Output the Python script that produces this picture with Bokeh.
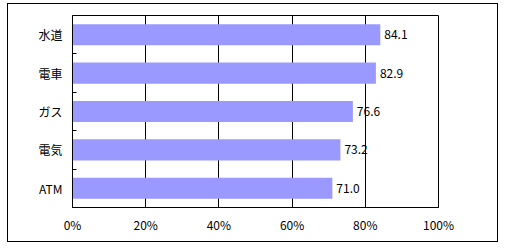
from bokeh.plotting import figure
from bokeh.models import FixedTicker, ColumnDataSource, LabelSet
from bokeh.core.properties import value
from bokeh.embed import file_html
from bokeh.resources import INLINE

categories = ["水道", "電車", "ガス", "電気", "ATM"]
values = [84.1, 82.9, 76.6, 73.2, 71.0]
x_ticks = [0, 20, 40, 60, 80, 100]
x_tick_labels = ["0%", "20%", "40%", "60%", "80%", "100%"]

n = len(categories)
ypos = [n - 0.5 - i for i in range(n)]
labels = [f"{v:.1f}" for v in values]

FONT = "Noto Sans CJK JP"

src = ColumnDataSource(dict(y=ypos, v=values, lab=labels, zero=[0] * n))

p = figure(width=491, height=239, output_backend="svg", toolbar_location=None,
           x_range=(0, 100), y_range=(0, n),
           min_border_left=64, min_border_right=61, min_border_top=11, min_border_bottom=36)
p.margin = (3, 0, 0, 7)
p.styles = {"border": "1px solid black"}

p.hbar(y="y", left="zero", right="v", height=0.55, source=src,
       fill_color="#9999FF", line_color=None)

p.add_layout(LabelSet(x="v", y="y", text="lab", source=src, x_offset=4,
                      text_baseline="middle", text_align="left",
                      text_font=value(FONT), text_font_size=value("12px"),
                      text_color="black"))

# axes
p.xaxis.ticker = FixedTicker(ticks=x_ticks)
p.xaxis.major_label_overrides = {t: l for t, l in zip(x_ticks, x_tick_labels)}
p.xaxis.major_tick_out = 0
p.xaxis.major_tick_in = 0
p.xaxis.minor_tick_out = 0
p.xaxis.minor_tick_in = 0
p.xaxis.major_label_standoff = 8
p.xaxis.axis_line_color = "black"

p.yaxis.ticker = FixedTicker(ticks=ypos, minor_ticks=[1, 2, 3, 4])
p.yaxis.major_label_overrides = {y: c for y, c in zip(ypos, categories)}
p.yaxis.major_tick_out = 0
p.yaxis.major_tick_in = 0
p.yaxis.minor_tick_in = 4
p.yaxis.minor_tick_out = 0
p.yaxis.minor_tick_line_color = "black"
p.yaxis.major_label_standoff = 10
p.yaxis.axis_line_color = "black"

for ax in (p.xaxis, p.yaxis):
    ax.major_label_text_font = FONT
    ax.major_label_text_font_size = "12px"
    ax.major_label_text_color = "black"

p.xgrid.ticker = FixedTicker(ticks=x_ticks)
p.xgrid.grid_line_color = "black"
p.xgrid.grid_line_alpha = 1
p.ygrid.grid_line_color = None

p.outline_line_color = "black"
p.outline_line_alpha = 1
p.background_fill_color = "white"
p.border_fill_color = "white"

open("out.html", "w").write(file_html(p, INLINE))
